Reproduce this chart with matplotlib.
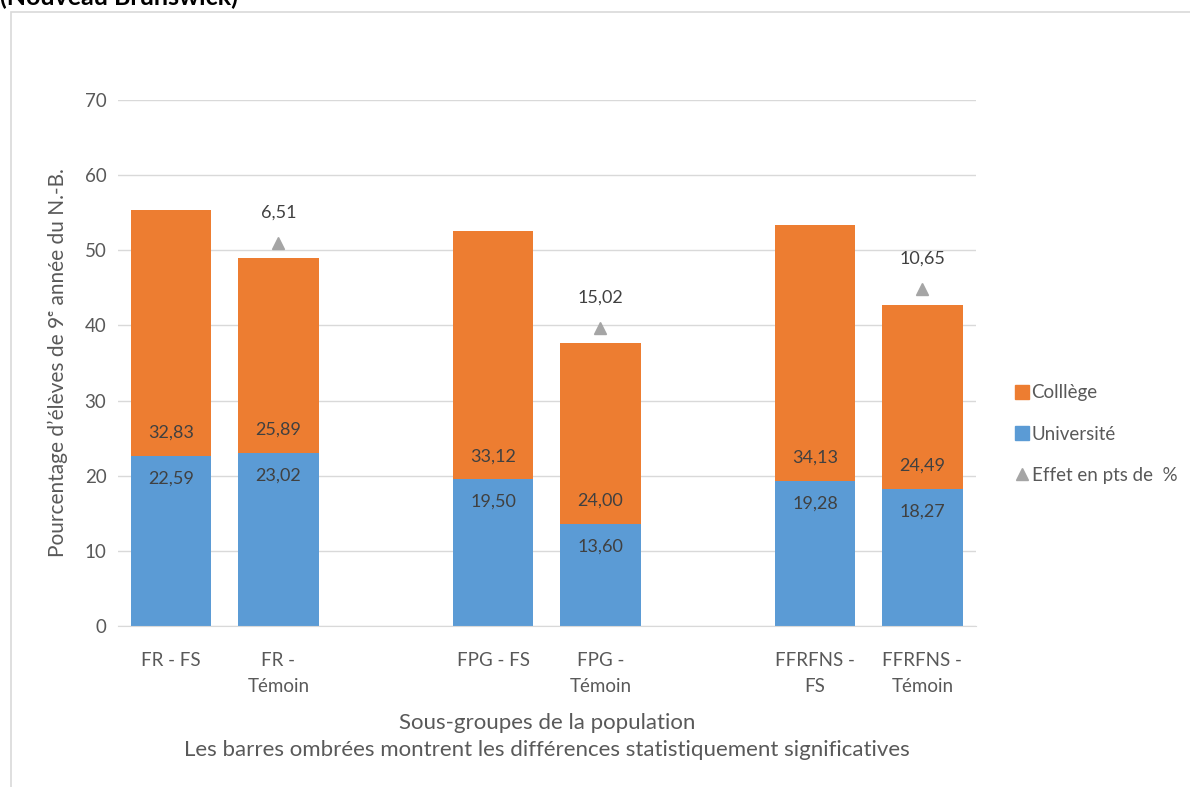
import numpy as np
import matplotlib.pyplot as plt
from matplotlib.patches import Rectangle
from matplotlib.lines import Line2D

plt.rcParams['font.family'] = ['Lato', 'DejaVu Sans']

# six subgroups, blank slot between each pair
labels = ["FR - FS", "FR -\nTémoin", "FPG - FS", "FPG -\nTémoin",
          "FFRFNS -\nFS", "FFRFNS -\nTémoin"]
slots = [0, 1, 3, 4, 6, 7]
universite = [22.59, 23.02, 19.50, 13.60, 19.28, 18.27]
college = [32.83, 25.89, 33.12, 24.00, 34.13, 24.49]
# effect in points of %, shown above the control bars
effet = [6.51, 15.02, 10.65]
effet_idx = [1, 3, 5]

orange = '#ED7D31'
blue = '#5B9BD5'
gray_tri = '#A5A5A5'
txt = '#595959'
lbl = '#404040'

fig = plt.figure(figsize=(11.9, 7.87), dpi=100)
ax = fig.add_axes([117.5/1190, 1-626/787, (976-117.5)/1190, (626-100)/787])

x = np.array(slots, dtype=float)
u = np.array(universite)
c = np.array(college)
ax.bar(x, u, width=0.75, color=blue, zorder=2)
ax.bar(x, c, bottom=u, width=0.75, color=orange, zorder=2)

for xi, ui, ci in zip(x, u, c):
    ax.text(xi, ui - 3.0, f"{ui:.2f}".replace('.', ','), ha='center', va='center',
            fontsize=13, color=lbl, zorder=3)
    ax.text(xi, ui + 3.1, f"{ci:.2f}".replace('.', ','), ha='center', va='center',
            fontsize=13, color=lbl, zorder=3)

tot = u + c
for i, e in zip(effet_idx, effet):
    yt = tot[i] + 2.1
    ax.plot(x[i], yt, marker='^', color=gray_tri, markersize=9, zorder=3)
    ax.text(x[i], yt + 4.0, f"{e:.2f}".replace('.', ','), ha='center', va='center',
            fontsize=13, color=lbl)

ax.set_xlim(-0.5, 7.5)
ax.set_ylim(0, 70)
ax.set_yticks(range(0, 71, 10))
ax.yaxis.grid(True, color='#d9d9d9', linewidth=1)
ax.set_axisbelow(True)
for s in ['top', 'right', 'left']:
    ax.spines[s].set_visible(False)
ax.spines['bottom'].set_color('#d9d9d9')
ax.tick_params(axis='both', length=0, colors=txt, labelsize=13.5)
ax.tick_params(axis='y', pad=8)
ax.tick_params(axis='x', pad=19)
ax.set_xticks(x)
ax.set_xticklabels(labels, linespacing=1.6)

ax.set_ylabel("Pourcentage d\u2019élèves de 9\u1d49 année du N.-B.", fontsize=15,
              color=txt, labelpad=12)
ax.set_xlabel("Sous-groupes de la population\n"
              "Les barres ombrées montrent les différences statistiquement significatives",
              fontsize=16, color=txt, labelpad=13, linespacing=1.45)

handles = [
    Line2D([], [], marker='s', linestyle='none', color=orange, markersize=10),
    Line2D([], [], marker='s', linestyle='none', color=blue, markersize=10),
    Line2D([], [], marker='^', linestyle='none', color=gray_tri, markersize=9),
]
leg = fig.legend(handles, ["Colllège", "Université", "Effet en pts de  %"],
                 loc='center left', bbox_to_anchor=(996/1190, 1-434/787),
                 frameon=False, fontsize=13.5, handletextpad=0.0,
                 labelspacing=1.3, handlelength=1.0)
for t in leg.get_texts():
    t.set_color(txt)

# chart frame
fig.patches.append(Rectangle((11/1190, -0.01), 1.0, 1-12/787+0.01,
                             transform=fig.transFigure, fill=False,
                             edgecolor='#d9d9d9', linewidth=1.2))

fig.text(0.0, 1-5/787, "(Nouveau Brunswick)", fontsize=18, fontweight='bold',
         va='baseline', ha='left', color='black')

fig.savefig('out.png', dpi=100)
